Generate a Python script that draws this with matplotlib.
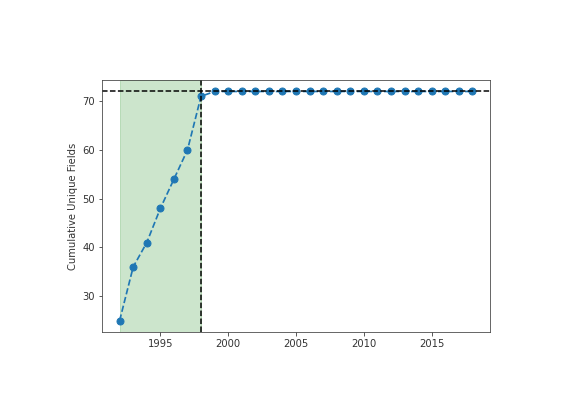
import matplotlib
matplotlib.use("Agg")
import matplotlib.pyplot as plt

years = list(range(1992, 2019))
cumulative_fields = [25, 36, 41, 48, 54, 60, 71] + [72] * 20
total_fields = 72
cutoff_year = 1998
start_year = 1992

text_grey = "#333333"
plt.rcParams["text.color"] = text_grey
plt.rcParams["axes.labelcolor"] = text_grey
plt.rcParams["xtick.color"] = text_grey
plt.rcParams["ytick.color"] = text_grey
plt.rcParams["axes.edgecolor"] = "#444444"

fig = plt.figure(figsize=(581 / 72, 418 / 72), dpi=72)
ax = fig.add_axes([102 / 581, 86 / 418, 388 / 581, 252 / 418])

ax.plot(years, cumulative_fields, 'o--', markersize=7, linewidth=1.7)
ax.axvspan(start_year, cutoff_year, color="green", alpha=0.2)
ax.axvline(cutoff_year, color="black", linestyle="--")
ax.axhline(total_fields, color="black", linestyle="--")

ax.set_ylabel("Cumulative Unique Fields")

fig.savefig("out.png", dpi=72)
